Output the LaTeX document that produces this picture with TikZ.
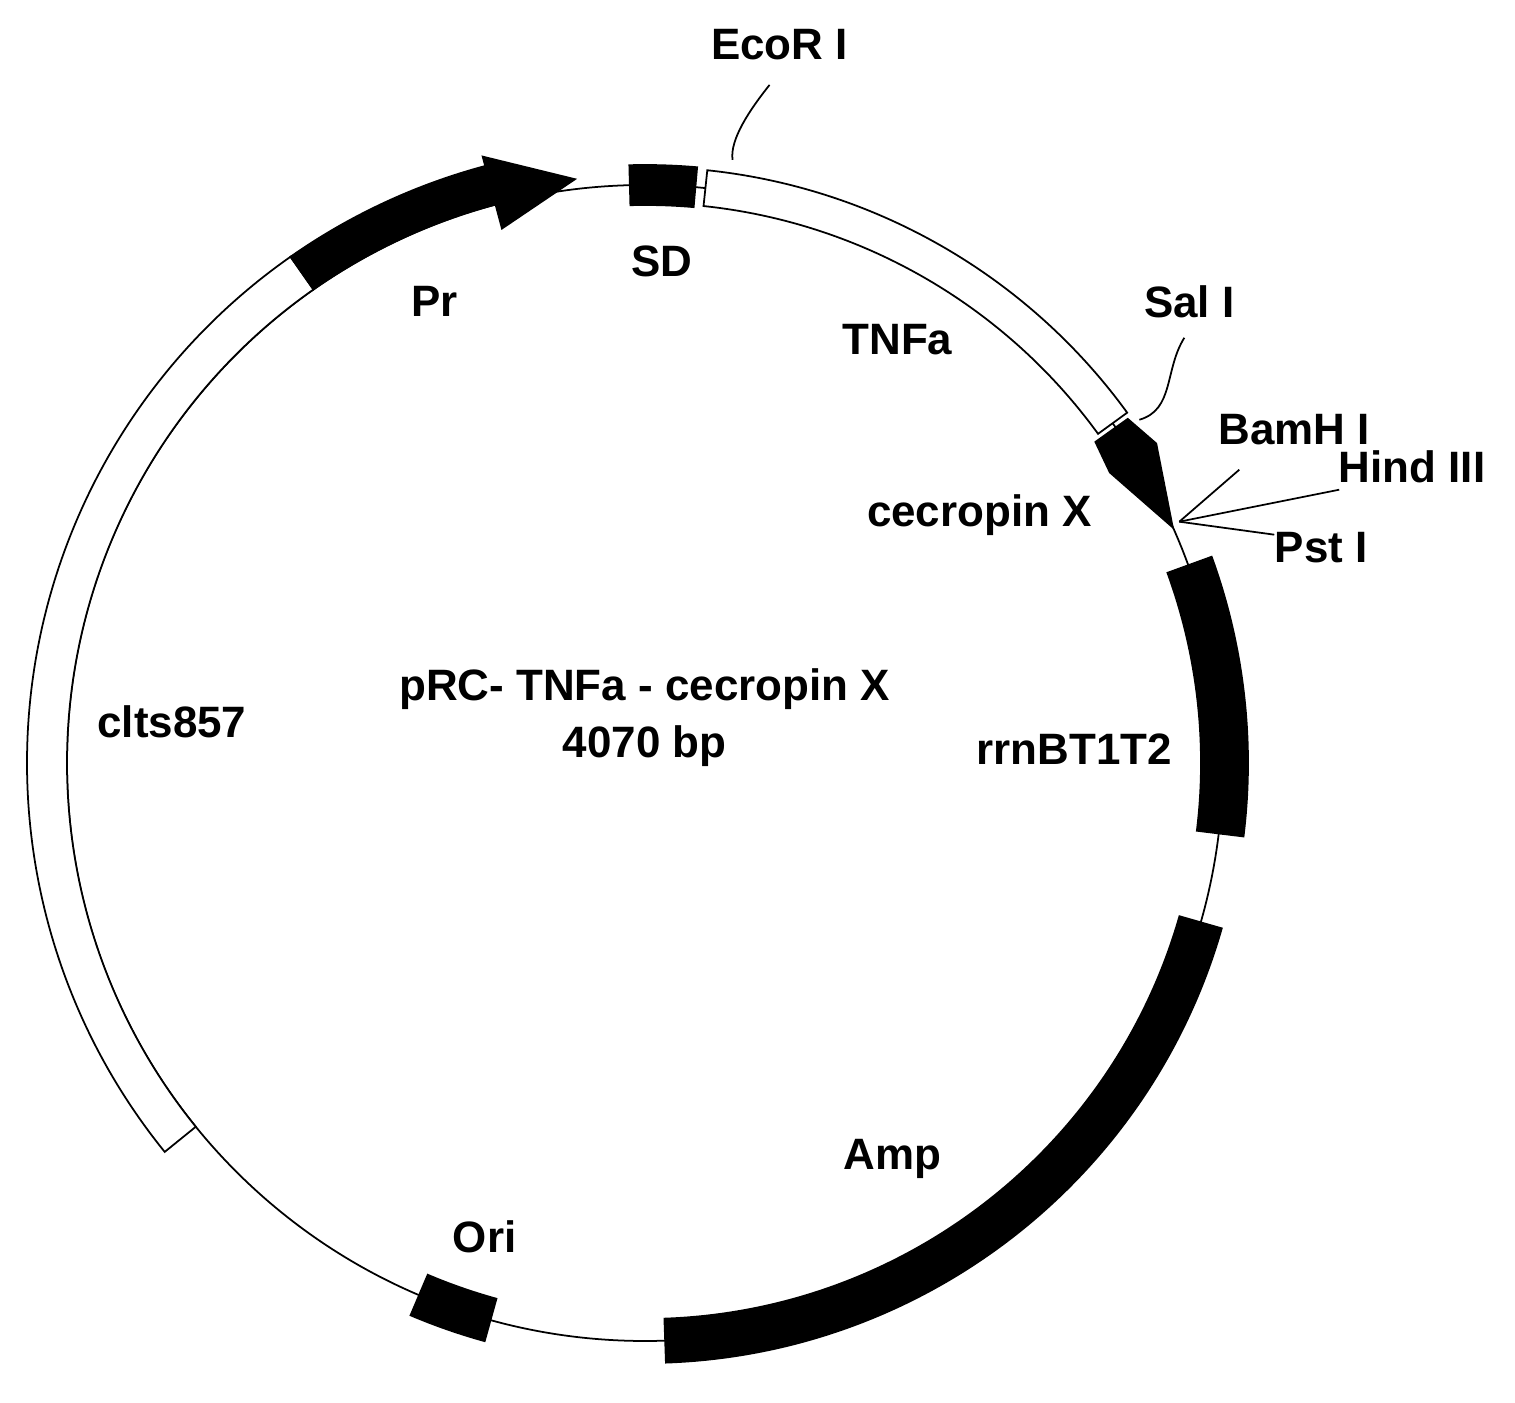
\documentclass[tikz,border=0pt]{standalone}
\usepackage{fontspec}
\setmainfont{Liberation Sans}
\begin{document}
\begin{tikzpicture}
	\useasboundingbox (0,0) rectangle (15.15,14.03);
	\tikzset{lbl/.style = {font=\fontsize{12.5}{14}\selectfont\bfseries, inner sep=0pt}};
	\def\rr{5.78}
	%Band auf dem Ring
	\newcommand{\arcband}[5]
	{
		\filldraw[fill=#5, line width=0.5pt] (#1:#3) arc (#1:#2:#3) -- (#2:#4) arc (#2:#1:#4) -- cycle;
	};
	%Ring
	\begin{scope}[shift={(6.45,6.4)}]
	\draw[line width=0.5pt] (0,0) circle (\rr);
	%weisse Bereiche
	\arcband{125}{219}{5.78}{6.18}{white}
	\arcband{84}{36}{5.6}{5.96}{white}
	%Pr
	\arcband{125}{105}{5.78}{6.18}{black}
	\filldraw (105:5.53) -- (105:6.28) -- (96.8:5.88) -- cycle;
	%SD
	\arcband{91.5}{85}{5.58}{5.98}{black}
	%cecropin X
	\filldraw (35.5:5.53) -- (35.5:5.93) -- (32:6.03) -- (24:5.78) -- (32:5.48) -- cycle;
	%rrnBT1T2
	\arcband{20}{-7}{5.56}{6.03}{black}
	%Amp
	\arcband{-16}{-88}{5.56}{6.0}{black}
	%Ori
	\arcband{-105.5}{-113}{5.56}{6.0}{black}
	\end{scope}
	%Beschriftung
	\begin{scope}[shift={(0,14.03)}, x=0.01cm, y=-0.01cm]
	\node[lbl] (eco) at (780,45) {EcoR I};
	\node[lbl] (sal) at (1190,302) {Sal I};
	\node[lbl] (bam) at (1295,430) {BamH I};
	\node[lbl] (hind) at (1413,467) {Hind III};
	\node[lbl] (pst) at (1322,548) {Pst I};
	\node[lbl] (pr) at (435,302) {Pr};
	\node[lbl] (sd) at (662,262) {SD};
	\node[lbl] (tnf) at (898,340) {TNFa};
	\node[lbl] (cec) at (980,515) {cecropin X};
	\node[lbl] (rrn) at (1075,750) {rrnBT1T2};
	\node[lbl] (amp) at (893,1160) {Amp};
	\node[lbl] (ori) at (485,1238) {Ori};
	\node[lbl] (clts) at (172,722) {clts857};
	\node[lbl, align=center] (name) at (645,718) {pRC- TNFa - cecropin X\\[2pt]4070 bp};
	\coordinate (ecocut) at (733,160);
	\coordinate (salcut) at (1140,420);
	\coordinate (mcs) at (1180,522);
	\draw[line width=0.5pt] (ecocut) .. controls (730,140) and (750,110) .. (770,85);
	\draw[line width=0.5pt] (salcut) .. controls (1175,410) and (1165,370) .. (1185,338);
	\draw[line width=0.5pt] (mcs) -- (1240,470);
	\draw[line width=0.5pt] (mcs) -- (1340,490);
	\draw[line width=0.5pt] (mcs) -- (1275,535);
	\end{scope}
\end{tikzpicture}
\end{document}
